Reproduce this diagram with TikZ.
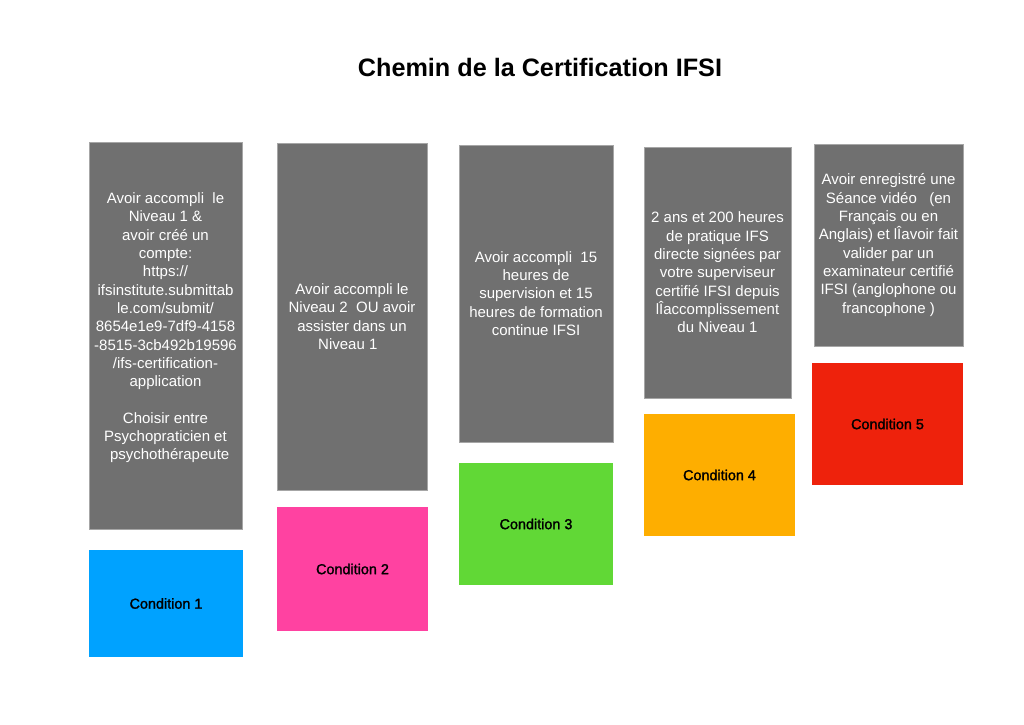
\documentclass[tikz,border=0pt]{standalone}
\usepackage{fontspec}
\setmainfont{Liberation Sans}
\usepackage{tikz}
\usetikzlibrary{positioning}
\definecolor{ifsGray}{HTML}{707070}
\definecolor{ifsBlue}{HTML}{00A2FF}
\definecolor{ifsPink}{HTML}{FF42A1}
\definecolor{ifsGreen}{HTML}{61D836}
\definecolor{ifsOrange}{HTML}{FEAE00}
\definecolor{ifsRed}{HTML}{EE220C}

\begin{document}
\begin{tikzpicture}[x=1pt, y=-1pt,
  infobox/.style={fill=ifsGray, draw=black!35, line width=0.6pt, inner sep=0pt,
    text=white, align=center, font=\fontsize{15}{18.3}\selectfont},
  condbox/.style={inner sep=0pt, text=black,
    font=\fontsize{14.4}{17}\selectfont\addfontfeatures{FakeBold=1.6}}]
  \useasboundingbox[fill=white] (0,0) rectangle (1024,724);
  \node[font=\fontsize{25.2}{30}\selectfont\bfseries] (title) at (540,67) {Chemin de la Certification IFSI};
  % step 1
  \node[infobox, minimum width=153, minimum height=387] (info1) at (165.5,335.5)
    {Avoir accompli \ le\\ Niveau 1 \&\\ avoir créé un\\ compte:\\ https://\\ ifsinstitute.submittab\\ le.com/submit/\\ 8654e1e9-7df9-4158\\ -8515-3cb492b19596\\ /ifs-certification-\\ application\\[18.3pt] Choisir entre\\ Psychopraticien et\\ \ \ psychothérapeute\\ ~};
  \node[condbox, fill=ifsBlue, minimum width=154, minimum height=107] (cond1) at (166,603.5) {Condition 1};
  % step 2
  \node[infobox, minimum width=150, minimum height=347] (info2) at (352,316.5)
    {Avoir accompli le\\ Niveau 2 \ OU avoir\\ assister dans un\\ Niveau 1 \ \ };
  \node[condbox, fill=ifsPink, minimum width=151, minimum height=124] (cond2) at (352.5,569) {Condition 2};
  % step 3
  \node[infobox, minimum width=154, minimum height=297] (info3) at (536,293.5)
    {Avoir accompli \ 15\\ heures de\\ supervision et 15\\ heures de formation\\ continue IFSI};
  \node[condbox, fill=ifsGreen, minimum width=154, minimum height=122] (cond3) at (536,524) {Condition 3};
  % step 4
  \node[infobox, minimum width=147, minimum height=251] (info4) at (717.5,272.5)
    {2 ans et 200 heures\\ de pratique IFS\\ directe signées par\\ votre superviseur\\ certifié IFSI depuis\\ lÎaccomplissement\\ du Niveau 1};
  \node[condbox, fill=ifsOrange, minimum width=151, minimum height=122] (cond4) at (719.5,475) {Condition 4};
  % step 5
  \node[infobox, minimum width=149, minimum height=202] (info5) at (888.5,245)
    {Avoir enregistré une\\ Séance vidéo \ \ (en\\ Français ou en\\ Anglais) et lÎavoir fait\\ valider par un\\ examinateur certifié\\ IFSI (anglophone ou\\ francophone )};
  \node[condbox, fill=ifsRed, minimum width=151, minimum height=122] (cond5) at (887.5,424) {Condition 5};
\end{tikzpicture}
\end{document}
